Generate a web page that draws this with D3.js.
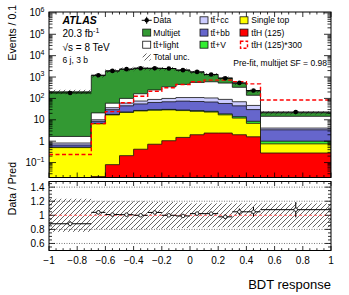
<!DOCTYPE html>
<html>
<head>
<meta charset="utf-8">
<script src="https://cdn.jsdelivr.net/npm/d3@7/dist/d3.min.js"></script>
<style>
  body { margin: 0; background: #fff; }
  svg text { font-family: "Liberation Sans", Arial, sans-serif; }
</style>
</head>
<body>
<svg id="chart" width="349" height="295"></svg>
<script>
// bin edges of the BDT response (variable width), values are events / 0.1
const binEdges = [-1, -0.7, -0.6, -0.5, -0.4, -0.3, -0.2, -0.1, 0, 0.1, 0.2, 0.3, 0.4, 0.5, 1];

const ttH       = [0.0008, 0.022, 0.08, 0.21, 0.42, 0.72, 1.05, 1.5, 2.0, 2.4, 2.4, 2.0, 1.6, 0.28];
const singleTop = [0.5, 6.5, 16.9, 21.8, 25.6, 27.3, 28, 25.5, 23, 20.6, 14.6, 10, 5.2, 0.47];
const ttV       = [0.02, 0.3, 0.8, 1.1, 1.3, 1.5, 1.6, 1.7, 1.8, 1.9, 1.9, 1.9, 1.7, 0.25];
const ttbb      = [0.14, 1.7, 12, 22, 28, 35, 39, 46, 45, 43, 39, 31, 21.5, 2.4];
const ttcc      = [0.16, 1.5, 7, 15, 20, 25, 30, 35, 38, 37, 32, 25, 17, 0.7];
const ttlight   = [0.84, 11, 23, 40, 90, 160, 250, 340, 450, 495, 430, 260, 93, 10.4];
const multijet  = [203, 1150, 1860, 2220, 2415, 2230, 2150, 1670, 1140, 690, 380, 175, 82, 6.8];

const dataVals  = [180, 1220, 1940, 2340, 2580, 2580, 2500, 2100, 1740, 1320, 880, 530, 233, 23];
const dataRelErr = [0.04, 0.03, 0.022, 0.02, 0.02, 0.02, 0.02, 0.022, 0.025, 0.028, 0.034, 0.045, 0.065, 0.1];
const totalUnc  = [0.235, 0.2, 0.2, 0.2, 0.2, 0.19, 0.19, 0.18, 0.17, 0.17, 0.17, 0.17, 0.17, 0.17];

const signalScale = 300;

const xTicks = [-1, -0.8, -0.6, -0.4, -0.2, 0, 0.2, 0.4, 0.6, 0.8, 1];
const ratioTicks = [0.6, 0.8, 1, 1.2, 1.4];

const stack = [
  { name: "ttH",      vals: ttH,       color: "#ff0000" },
  { name: "single",   vals: singleTop, color: "#ffff00" },
  { name: "ttV",      vals: ttV,       color: "#33ee33" },
  { name: "ttbb",     vals: ttbb,      color: "#6666cc" },
  { name: "ttcc",     vals: ttcc,      color: "#ccccff" },
  { name: "ttlight",  vals: ttlight,   color: "#ffffff" },
  { name: "multijet", vals: multijet,  color: "#339933" }
];

const left = 49, right = 331;
const mainTop = 12, mainBottom = 177.5;
const ratioTop = 181.5, ratioBottom = 250.5;

const svg = d3.select("#chart");

const x = d3.scaleLinear().domain([-1, 1]).range([left, right]);
const y = d3.scaleLog().domain([0.02, 1.1e6]).range([mainBottom, mainTop]);
const yR = d3.scaleLinear().domain([0.5, 1.48]).range([ratioBottom, ratioTop]);

const nBins = dataVals.length;
const bins = d3.range(nBins).map(i => ({ lo: binEdges[i], hi: binEdges[i + 1], mid: (binEdges[i] + binEdges[i + 1]) / 2 }));

// cumulative sums
let run = new Array(nBins).fill(0);
stack.forEach(s => {
  run = run.map((v, i) => v + s.vals[i]);
  s.cum = run.slice();
});
const total = run;
const ratio = dataVals.map((d, i) => d / total[i]);

const defs = svg.append("defs");
defs.append("clipPath").attr("id", "clipMain").append("rect")
  .attr("x", left).attr("y", mainTop).attr("width", right - left).attr("height", mainBottom - mainTop);
defs.append("clipPath").attr("id", "clipRatio").append("rect")
  .attr("x", left).attr("y", ratioTop).attr("width", right - left).attr("height", ratioBottom - ratioTop);
const pat = defs.append("pattern").attr("id", "hatch").attr("patternUnits", "userSpaceOnUse")
  .attr("width", 5).attr("height", 5);
pat.append("path").attr("d", "M-1,1 l2,-2 M0,5 l5,-5 M4,6 l2,-2")
  .attr("stroke", "#222").attr("stroke-width", 0.7);

const line = d3.line().x(d => d[0]).y(d => d[1]);

function histPoints(vals, closeBottom) {
  const pts = [];
  if (closeBottom) pts.push([x(binEdges[0]), mainBottom + 5]);
  vals.forEach((v, i) => {
    const yy = y(Math.max(v, 1e-4));
    pts.push([x(bins[i].lo), yy]);
    pts.push([x(bins[i].hi), yy]);
  });
  if (closeBottom) pts.push([x(binEdges[nBins]), mainBottom + 5]);
  return pts;
}

// ---- main panel
const gMain = svg.append("g").attr("clip-path", "url(#clipMain)");

// stack: drawn from the top cumulative down
for (let k = stack.length - 1; k >= 0; k--) {
  gMain.append("path")
    .attr("d", line(histPoints(stack[k].cum, true)) + "Z")
    .attr("fill", stack[k].color)
    .attr("stroke", "#111")
    .attr("stroke-width", 0.8);
}

// total uncertainty band
gMain.selectAll("rect.unc").data(bins).enter().append("rect")
  .attr("x", d => x(d.lo))
  .attr("width", d => x(d.hi) - x(d.lo))
  .attr("y", (d, i) => y(total[i] * (1 + totalUnc[i])))
  .attr("height", (d, i) => y(total[i] * (1 - totalUnc[i])) - y(total[i] * (1 + totalUnc[i])))
  .attr("fill", "url(#hatch)");

// ttH * 300 dashed
gMain.append("path")
  .attr("d", line(histPoints(ttH.map(v => v * signalScale), false)))
  .attr("fill", "none")
  .attr("stroke", "#ff0000")
  .attr("stroke-width", 1.4)
  .attr("stroke-dasharray", "4,2.5");

// data points
const gData = gMain.append("g");
bins.forEach((b, i) => {
  const cy = y(dataVals[i]);
  gData.append("line").attr("x1", x(b.lo)).attr("x2", x(b.hi)).attr("y1", cy).attr("y2", cy)
    .attr("stroke", "#000").attr("stroke-width", 1);
  gData.append("line").attr("x1", x(b.mid)).attr("x2", x(b.mid))
    .attr("y1", y(dataVals[i] * (1 + dataRelErr[i]))).attr("y2", y(dataVals[i] * (1 - dataRelErr[i])))
    .attr("stroke", "#000").attr("stroke-width", 1);
  gData.append("circle").attr("cx", x(b.mid)).attr("cy", cy).attr("r", 2.3).attr("fill", "#000");
});

// ---- ratio panel
const gRatio = svg.append("g").attr("clip-path", "url(#clipRatio)");

ratioTicks.filter(t => t !== 1).forEach(t => {
  gRatio.append("line").attr("x1", left).attr("x2", right).attr("y1", yR(t)).attr("y2", yR(t))
    .attr("stroke", "#555").attr("stroke-width", 0.8).attr("stroke-dasharray", "1,1.5");
});

gRatio.selectAll("rect.unc").data(bins).enter().append("rect")
  .attr("x", d => x(d.lo))
  .attr("width", d => x(d.hi) - x(d.lo))
  .attr("y", (d, i) => yR(1 + totalUnc[i]))
  .attr("height", (d, i) => yR(1 - totalUnc[i]) - yR(1 + totalUnc[i]))
  .attr("fill", "url(#hatch)");

gRatio.append("line").attr("x1", left).attr("x2", right).attr("y1", yR(1)).attr("y2", yR(1))
  .attr("stroke", "#ff5555").attr("stroke-width", 1).attr("stroke-dasharray", "3,2");

bins.forEach((b, i) => {
  const cy = yR(ratio[i]);
  gRatio.append("line").attr("x1", x(b.lo)).attr("x2", x(b.hi)).attr("y1", cy).attr("y2", cy)
    .attr("stroke", "#000").attr("stroke-width", 1);
  gRatio.append("line").attr("x1", x(b.mid)).attr("x2", x(b.mid))
    .attr("y1", yR(ratio[i] * (1 + dataRelErr[i]))).attr("y2", yR(ratio[i] * (1 - dataRelErr[i])))
    .attr("stroke", "#000").attr("stroke-width", 1);
  gRatio.append("circle").attr("cx", x(b.mid)).attr("cy", cy).attr("r", 1.8)
    .attr("fill", "#fff").attr("stroke", "#000").attr("stroke-width", 0.8);
});

// ---- axes (ROOT style, ticks inside on all sides)
const gAx = svg.append("g").attr("stroke", "#000").attr("stroke-width", 0.8);

function xTickMarks(yTop, yBot, bigLen, smallLen) {
  d3.range(-1, 1.0001, 0.05).forEach(t => {
    const major = Math.abs(Math.round(t * 5) - t * 5) < 1e-6;
    const len = major ? bigLen : smallLen;
    const xx = x(t);
    gAx.append("line").attr("x1", xx).attr("x2", xx).attr("y1", yBot).attr("y2", yBot - len);
    gAx.append("line").attr("x1", xx).attr("x2", xx).attr("y1", yTop).attr("y2", yTop + len);
  });
}
xTickMarks(mainTop, mainBottom, 5, 2.5);
xTickMarks(ratioTop, ratioBottom, 4.5, 2.3);

// log y ticks
for (let k = -2; k <= 6; k++) {
  for (let m = 1; m <= 9; m++) {
    const v = m * Math.pow(10, k);
    if (v < 0.02 || v > 1.1e6) continue;
    const len = m === 1 ? 7 : 3.5;
    const yy = y(v);
    gAx.append("line").attr("x1", left).attr("x2", left + len).attr("y1", yy).attr("y2", yy);
    gAx.append("line").attr("x1", right).attr("x2", right - len).attr("y1", yy).attr("y2", yy);
  }
}
// ratio y ticks
d3.range(0.5, 1.4801, 0.05).forEach(t => {
  const major = Math.abs(Math.round(t * 5) - t * 5) < 1e-6;
  const len = major ? 6 : 3;
  const yy = yR(t);
  gAx.append("line").attr("x1", left).attr("x2", left + len).attr("y1", yy).attr("y2", yy);
  gAx.append("line").attr("x1", right).attr("x2", right - len).attr("y1", yy).attr("y2", yy);
});

// frames
svg.append("rect").attr("x", left).attr("y", mainTop).attr("width", right - left).attr("height", mainBottom - mainTop)
  .attr("fill", "none").attr("stroke", "#000").attr("stroke-width", 1);
svg.append("rect").attr("x", left).attr("y", ratioTop).attr("width", right - left).attr("height", ratioBottom - ratioTop)
  .attr("fill", "none").attr("stroke", "#000").attr("stroke-width", 1);

// tick labels
const fmtX = d => {
  if (Math.abs(d) < 1e-9) return "0";
  const s = Math.abs(Math.abs(d) - 1) < 1e-9 ? String(Math.round(d)) : d.toFixed(1);
  return s.replace("-", "\u2212");
};
xTicks.forEach(t => {
  svg.append("text").attr("x", x(t)).attr("y", 263.5).attr("text-anchor", "middle")
    .attr("font-size", 10).text(fmtX(t));
});

ratioTicks.forEach(t => {
  svg.append("text").attr("x", 44.5).attr("y", yR(t)).attr("dy", "0.35em").attr("text-anchor", "end")
    .attr("font-size", 10).text(String(t));
});

for (let k = -1; k <= 6; k++) {
  const t = svg.append("text").attr("x", 44.5).attr("y", y(Math.pow(10, k))).attr("dy", "0.35em")
    .attr("text-anchor", "end").attr("font-size", 10);
  if (k === 0) t.text("1");
  else if (k === 1) t.text("10");
  else {
    t.append("tspan").text("10");
    t.append("tspan").attr("font-size", 7).attr("dy", "-0.6em").text(k < 0 ? "\u2212" + (-k) : String(k));
  }
}

// axis titles
svg.append("text").attr("transform", "translate(16,5) rotate(-90)").attr("text-anchor", "end")
  .attr("font-size", 10.5).text("Events / 0.1");
svg.append("text").attr("transform", "translate(16,162) rotate(-90)").attr("text-anchor", "end")
  .attr("font-size", 10.5).text("Data / Pred");
svg.append("text").attr("x", 331).attr("y", 289).attr("text-anchor", "end")
  .attr("font-size", 13).text("BDT response");

// ATLAS labels
svg.append("text").attr("x", 62.5).attr("y", 24).attr("font-size", 10.5)
  .attr("font-weight", "bold").attr("font-style", "italic").text("ATLAS");
const lumi = svg.append("text").attr("x", 62.5).attr("y", 36.8).attr("font-size", 10);
lumi.append("tspan").text("20.3 fb");
lumi.append("tspan").attr("font-size", 7).attr("dy", -4).text("-1");
svg.append("text").attr("x", 62.5).attr("y", 50.5).attr("font-size", 10).text("\u221As = 8 TeV");
svg.append("text").attr("x", 62.5).attr("y", 62.5).attr("font-size", 8.5).text("6 j, 3 b");

svg.append("text").attr("x", 327).attr("y", 66).attr("text-anchor", "end")
  .attr("font-size", 8.5).text("Pre-fit, multijet SF = 0.98");

// legend
const tt = "t" + "t\u0304";
const legend = [
  { col: 0, row: 0, type: "data", label: "Data" },
  { col: 0, row: 1, type: "box", fill: "#339933", label: "Multijet" },
  { col: 0, row: 2, type: "box", fill: "#ffffff", label: tt + "+light" },
  { col: 0, row: 3, type: "hatch", label: "Total unc." },
  { col: 1, row: 0, type: "box", fill: "#ccccff", label: tt + "+cc" },
  { col: 1, row: 1, type: "box", fill: "#6666cc", label: tt + "+bb" },
  { col: 1, row: 2, type: "box", fill: "#33ee33", label: tt + "+V" },
  { col: 2, row: 0, type: "box", fill: "#ffff00", label: "Single top" },
  { col: 2, row: 1, type: "box", fill: "#ff0000", label: tt + "H (125)" },
  { col: 2, row: 2, type: "dash", label: tt + "H (125)*300" }
];
const colBox = [142.7, 200, 240];
const colText = [153.3, 210.5, 251.3];
const rowY = [20.3, 32.6, 44.7, 57];
const gLeg = svg.append("g");
legend.forEach(e => {
  const cx = colBox[e.col], cy = rowY[e.row];
  if (e.type === "box") {
    gLeg.append("rect").attr("x", cx).attr("y", cy - 3.5).attr("width", 8).attr("height", 7)
      .attr("fill", e.fill).attr("stroke", "#111").attr("stroke-width", 0.8);
  } else if (e.type === "dash") {
    gLeg.append("rect").attr("x", cx + 0.5).attr("y", cy - 3.5).attr("width", 7).attr("height", 7)
      .attr("fill", "#fff").attr("stroke", "#ff0000").attr("stroke-width", 1.4).attr("stroke-dasharray", "3,2");
  } else if (e.type === "hatch") {
    gLeg.append("rect").attr("x", cx).attr("y", cy - 3.5).attr("width", 8).attr("height", 7)
      .attr("fill", "url(#hatch)");
  } else {
    gLeg.append("line").attr("x1", cx - 1).attr("x2", cx + 9).attr("y1", cy).attr("y2", cy)
      .attr("stroke", "#000").attr("stroke-width", 1);
    gLeg.append("line").attr("x1", cx + 4).attr("x2", cx + 4).attr("y1", cy - 3.5).attr("y2", cy + 3.5)
      .attr("stroke", "#000").attr("stroke-width", 1);
    gLeg.append("circle").attr("cx", cx + 4).attr("cy", cy).attr("r", 2.2).attr("fill", "#000");
  }
  gLeg.append("text").attr("x", colText[e.col]).attr("y", cy).attr("dy", "0.35em")
    .attr("font-size", 8.5).text(e.label);
});
</script>
</body>
</html>
